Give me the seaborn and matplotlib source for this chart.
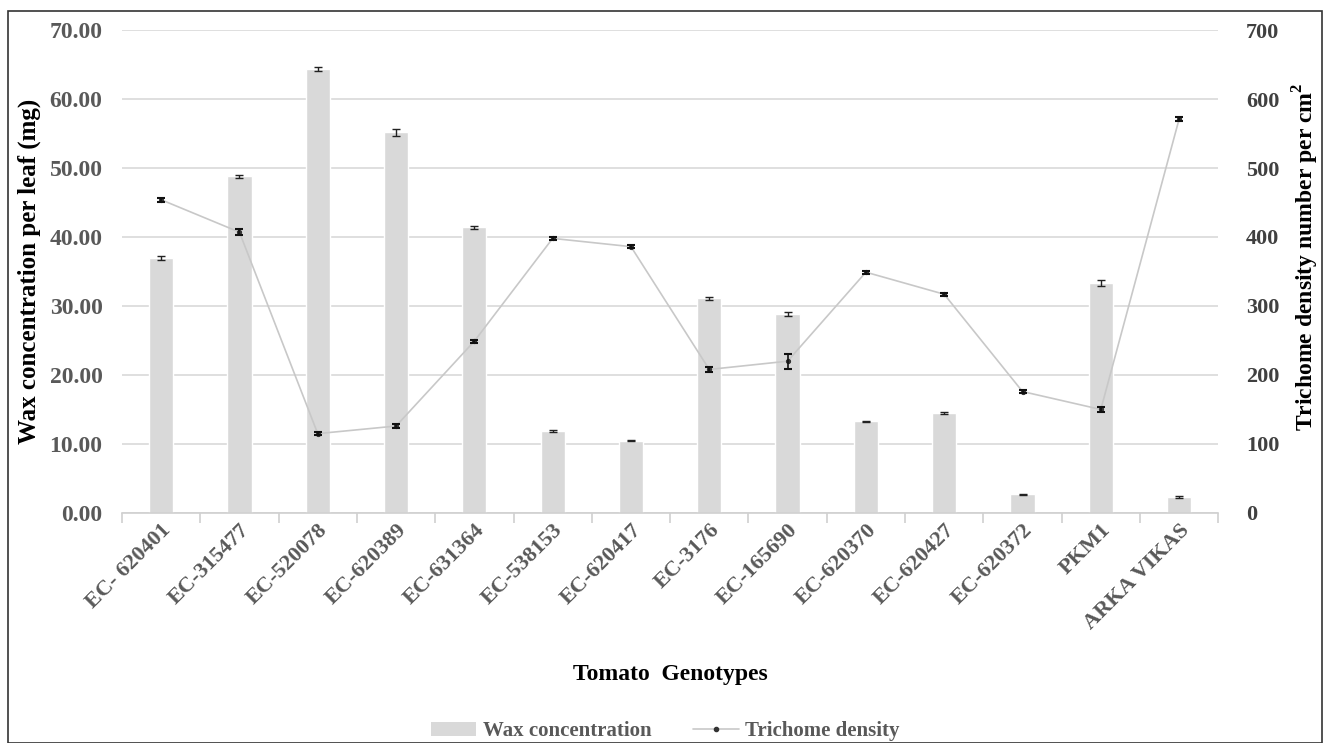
import matplotlib
matplotlib.use("Agg")
import matplotlib.pyplot as plt
import seaborn as sns
import numpy as np
import pandas as pd
from matplotlib.lines import Line2D
from matplotlib.patches import Patch

genotypes = ["EC- 620401", "EC-315477", "EC-520078", "EC-620389", "EC-631364",
             "EC-538153", "EC-620417", "EC-3176", "EC-165690", "EC-620370",
             "EC-620427", "EC-620372", "PKM1", "ARKA VIKAS"]
wax = [36.9, 48.8, 64.4, 55.2, 41.4, 11.9, 10.5, 31.1, 28.8, 13.3, 14.5, 2.7, 33.3, 2.3]
wax_err = [0.3, 0.2, 0.3, 0.5, 0.2, 0.1, 0.1, 0.2, 0.3, 0.1, 0.1, 0.1, 0.4, 0.1]
trich = [454, 407, 115, 126, 249, 398, 386, 208, 220, 349, 317, 176, 150, 571]
trich_err = [3, 4, 2, 3, 2, 2, 2, 4, 11, 2, 2, 2, 3, 3]
left_ticks = [0, 10, 20, 30, 40, 50, 60, 70]
right_ticks = [0, 100, 200, 300, 400, 500, 600, 700]

sns.set_theme(style="white")
plt.rcParams['font.family'] = ['Liberation Serif', 'DejaVu Serif']
plt.rcParams['mathtext.fontset'] = 'custom'
plt.rcParams['mathtext.bf'] = 'Liberation Serif:bold'
plt.rcParams['mathtext.rm'] = 'Liberation Serif'

df = pd.DataFrame({"genotype": genotypes, "wax": wax, "trich": trich})

fig = plt.figure(figsize=(13.3, 7.43), dpi=100)
ax = fig.add_axes([0.0917, 0.3096, 0.8243, 0.65])

sns.barplot(data=df, x="genotype", y="wax", color="#d9d9d9", width=0.31,
            saturation=1, ax=ax, errorbar=None, zorder=2)
x = np.arange(len(genotypes))
ax.errorbar(x, wax, yerr=wax_err, fmt='none', ecolor='#222222', elinewidth=1,
            capsize=3, capthick=1, zorder=3)

ax.set_ylim(0, 70)
ax.set_yticks(left_ticks)
ax.set_yticklabels([f"{v:.2f}" for v in left_ticks])
ax.set_xlim(-0.5, len(genotypes) - 0.5)
ax.yaxis.grid(True, color="#d9d9d9", linewidth=1.2, zorder=0)
ax.set_axisbelow(True)
for s in ["top", "right", "left"]:
    ax.spines[s].set_visible(False)
ax.spines["bottom"].set_color("#d0d0d0")
ax.spines["bottom"].set_linewidth(1.2)
ax.set_xticks(np.arange(len(genotypes) + 1) - 0.5, minor=True)
ax.tick_params(axis='x', which='minor', length=7, color="#d0d0d0", width=1.2, bottom=True)
ax.tick_params(axis='x', which='major', length=0, pad=5)
ax.tick_params(axis='y', length=0, pad=14)
ax.set_xticks(x)
ax.set_xticklabels(genotypes, rotation=45, ha='right', rotation_mode='anchor',
                   fontsize=16, fontweight='bold', color="#595959")
for lab in ax.get_yticklabels():
    lab.set_fontsize(17)
    lab.set_fontweight('bold')
    lab.set_color("#595959")
ax.set_xlabel("Tomato  Genotypes", fontsize=17, fontweight='bold', color='black', labelpad=22)
ax.set_ylabel("Wax concentration per leaf (mg)", fontsize=18, fontweight='bold',
              color='black', labelpad=6)

ax2 = ax.twinx()
sns.lineplot(data=df, x="genotype", y="trich", ax=ax2, color="#c8c8c8", linewidth=1.2,
             marker='o', markersize=3, markerfacecolor="#333333", markeredgecolor="#333333",
             sort=False, zorder=4)
ax2.errorbar(x, trich, yerr=trich_err, fmt='none', ecolor='#111111', elinewidth=1.2,
             capsize=3, capthick=1.5, zorder=5)
ax2.set_ylim(0, 700)
ax2.set_yticks(right_ticks)
ax2.set_yticklabels([str(v) for v in right_ticks])
for s in ["top", "right", "left", "bottom"]:
    ax2.spines[s].set_visible(False)
ax2.tick_params(axis='y', length=0, pad=20)
for lab in ax2.get_yticklabels():
    lab.set_fontsize(16)
    lab.set_fontweight('bold')
    lab.set_color("#404040")
ax2.set_ylabel(r"Trichome density number per cm$^{\mathbf{2}}$", fontsize=17,
               fontweight='bold', color='black')
ax2.yaxis.set_label_coords(1.066, 0.53)
ax2.grid(False)

handles = [Patch(facecolor="#d9d9d9", edgecolor="none", label="Wax concentration"),
           Line2D([0], [0], color="#c8c8c8", linewidth=1.2, marker='o', markersize=3,
                  markerfacecolor="#333333", markeredgecolor="#333333", label="Trichome density")]
leg = fig.legend(handles=handles, loc='center', bbox_to_anchor=(0.5, 0.016), ncol=2,
                 frameon=False, fontsize=15, handlelength=2.2, columnspacing=2.0,
                 handletextpad=0.3)
for t in leg.get_texts():
    t.set_fontweight('bold')
    t.set_color("#595959")

# figure border
border = plt.Rectangle((0.006, 0.0), 0.988, 0.985, transform=fig.transFigure,
                       fill=False, edgecolor='#333333', linewidth=1.2)
fig.patches.append(border)

fig.savefig("out.png", dpi=100)
